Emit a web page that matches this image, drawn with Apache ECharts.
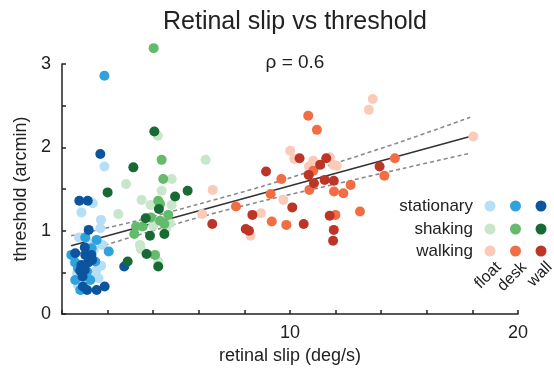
<!DOCTYPE html>
<html><head><meta charset="utf-8">
<script src="https://cdn.jsdelivr.net/npm/echarts@6/dist/echarts.min.js"></script>
<style>html,body{margin:0;padding:0;background:#fff}#c{width:554px;height:370px}</style>
</head><body><div id="c"></div>
<script>
// ---- data (retinal slip deg/s, threshold arcmin) ----
const stationaryFloat = [[1.35,1.33],[0.85,1.22],[1.71,1.13],[1.68,1.03],[1.86,1.77],[0.75,0.92],[1.78,0.83],[1.39,0.77],[1.72,0.58],[0.66,0.49],[1.46,0.45],[0.86,0.29],[1.6,0.43],[0.55,0.62],[1.2,0.85],[1.05,0.6],[1.5,0.52],[0.7,0.35]];
const stationaryDesk = [[1.86,2.86],[1.02,0.92],[1.52,0.89],[2.05,0.75],[0.41,0.71],[1.46,0.63],[1.1,0.51],[0.58,0.41],[1.24,0.41],[0.8,0.29],[0.58,0.62],[1.3,0.79],[0.95,0.45],[1.2,0.7],[0.7,0.55]];
const stationaryWall = [[1.68,1.92],[0.76,1.36],[1.13,1.36],[1.17,1.01],[1.0,0.8],[0.58,0.73],[1.02,0.71],[1.29,0.71],[1.32,0.65],[0.85,0.59],[0.95,0.56],[1.0,0.53],[0.92,0.33],[1.1,0.29],[1.52,0.29],[1.87,0.33],[2.73,0.57],[0.8,0.52],[1.15,0.62],[0.9,0.45]];
const shakingFloat = [[4.2,2.14],[6.3,1.85],[2.81,1.56],[4.81,1.62],[4.37,1.48],[3.49,1.37],[3.89,1.31],[4.81,1.31],[2.47,1.2],[4.74,1.09],[4.0,1.06],[4.55,1.02],[3.42,0.83],[3.46,0.78],[4.22,0.63]];
const shakingDesk = [[4.02,3.19],[4.37,1.85],[4.44,1.62],[4.22,1.36],[4.66,1.19],[3.9,1.16],[4.3,1.12],[4.49,1.08],[3.25,1.05],[3.54,1.05],[3.17,0.96],[4.08,0.71],[4.3,1.32]];
const shakingWall = [[4.05,2.19],[3.13,1.76],[2.0,1.46],[5.51,1.48],[4.96,1.41],[4.25,1.26],[3.67,1.15],[3.86,0.94],[4.49,0.96],[3.71,0.72],[2.88,0.63],[4.22,0.57]];
const walkingFloat = [[10.01,1.96],[10.19,1.86],[10.83,1.77],[11.02,1.84],[11.75,1.88],[11.9,1.79],[12.05,1.78],[6.61,1.49],[9.71,1.37],[6.15,1.2],[8.73,1.21],[8.27,0.94],[13.63,2.58],[13.46,2.45],[18.04,2.13]];
const walkingDesk = [[10.8,2.38],[11.18,2.21],[11.02,1.72],[10.85,1.49],[11.93,1.47],[9.62,1.62],[9.15,1.44],[7.63,1.29],[9.2,1.11],[9.84,1.07],[11.99,1.19],[14.6,1.87],[14.14,1.66],[12.66,1.55],[12.34,1.45],[13.07,1.23]];
const walkingWall = [[10.42,1.87],[11.32,1.79],[11.59,1.87],[10.82,1.67],[11.05,1.57],[11.52,1.61],[11.92,1.6],[8.95,1.71],[10.1,1.28],[8.35,1.19],[6.59,1.08],[8.06,1.02],[8.2,1.0],[10.6,1.08],[11.74,1.18],[11.92,1.01],[11.89,0.88],[13.93,1.77]];

// regression fit and its confidence band
const fitX = [0.4, 17.9];
const fitY = [0.82, 2.13];
const bandX = [0.4, 3, 6, 9, 12, 15, 17.9];
const bandUpper = [0.94, 1.10, 1.32, 1.55, 1.81, 2.08, 2.36];
const bandLower = [0.70, 0.92, 1.16, 1.37, 1.56, 1.75, 1.93];

const conditions = ['stationary', 'shaking', 'walking'];
const surfaces = ['float', 'desk', 'wall'];
const xTickLabels = [10, 20];
const yTickLabels = [0, 1, 2, 3];
const titleText = 'Retinal slip vs threshold';
const rhoText = 'ρ = 0.6';
// ---------------------------------------------

const groups = [
  [stationaryFloat, stationaryDesk, stationaryWall],
  [shakingFloat, shakingDesk, shakingWall],
  [walkingFloat, walkingDesk, walkingWall]
];
const colors = [
  ['#b5dff6', '#2fa2de', '#0c559e'],
  ['#c8e6ca', '#63bb6b', '#186a35'],
  ['#fbcab8', '#f26d44', '#bd3527']
];
const FONT = 'Liberation Sans, Arial, Helvetica, sans-serif';
const TXT = '#222';

const series = [];
series.push({type:'line', data: bandX.map((x,i)=>[x,bandUpper[i]]), smooth:0.3, symbol:'none', z:1,
  lineStyle:{color:'#8a8a8a', width:1.6, type:[4,3]}, silent:true});
series.push({type:'line', data: bandX.map((x,i)=>[x,bandLower[i]]), smooth:0.3, symbol:'none', z:1,
  lineStyle:{color:'#8a8a8a', width:1.6, type:[4,3]}, silent:true});
series.push({type:'line', data: fitX.map((x,i)=>[x,fitY[i]]), symbol:'none', z:1,
  lineStyle:{color:'#333', width:1.6}, silent:true});
groups.forEach((g, gi) => g.forEach((d, si) => {
  series.push({type:'scatter', name: conditions[gi]+' '+surfaces[si], data: d, symbolSize: 10,
    clip:false, z:2, itemStyle:{color: colors[gi][si], opacity:1}});
}));

// legend graphic (3x3 grid of dots)
const colX = [490, 515.5, 541];
const rowY = [206, 229, 251];
const graphic = [];
conditions.forEach((c, ri) => {
  graphic.push({type:'text', x: 473, y: rowY[ri], style:{text:c, fill:TXT, font:'17px '+FONT, textAlign:'right', textVerticalAlign:'middle'}});
  surfaces.forEach((s, ci) => {
    graphic.push({type:'circle', shape:{cx: colX[ci], cy: rowY[ri], r:5.5}, style:{fill: colors[ri][ci]}});
  });
});
surfaces.forEach((s, ci) => {
  graphic.push({type:'text', x: colX[ci]+3, y: 259, rotation: Math.PI/4,
    style:{text:s, fill:TXT, font:'16px '+FONT, textAlign:'right', textVerticalAlign:'top'}});
});

const chart = echarts.init(document.getElementById('c'), null, {renderer:'canvas'});
chart.setOption({
  backgroundColor:'#fff',
  animation:false,
  title:[
    {text:titleText, left:290, top:5, textAlign:'center', textStyle:{fontFamily:FONT, fontSize:25, fontWeight:'normal', color:TXT}},
    {text:rhoText, left:290, top:48, textAlign:'center', textStyle:{fontFamily:FONT, fontSize:19, fontWeight:'normal', color:TXT}}
  ],
  grid:{left:62, right:36, top:64, bottom:54, containLabel:false},
  xAxis:{type:'value', min:0, max:20, interval:2,
    name:'retinal slip (deg/s)', nameLocation:'middle', nameGap:32,
    nameTextStyle:{fontFamily:FONT, fontSize:18, color:TXT},
    axisLine:{lineStyle:{color:'#222', width:1.5}},
    axisTick:{inside:true, length:4, lineStyle:{color:'#222', width:1.5}},
    axisLabel:{fontFamily:FONT, fontSize:18, color:TXT, margin:10,
      formatter:v => xTickLabels.includes(v) ? String(v) : ''},
    splitLine:{show:false}},
  yAxis:{type:'value', min:0, max:3, interval:0.5,
    name:'threshold (arcmin)', nameLocation:'middle', nameGap:25, nameRotate:90,
    nameTextStyle:{fontFamily:FONT, fontSize:18, color:TXT},
    axisLine:{lineStyle:{color:'#222', width:1.5}},
    axisTick:{inside:true, length:4, lineStyle:{color:'#222', width:1.5}},
    axisLabel:{fontFamily:FONT, fontSize:18, color:TXT, margin:11,
      formatter:v => yTickLabels.includes(v) ? String(v) : ''},
    splitLine:{show:false}},
  series: series,
  graphic: graphic
});
</script></body></html>
